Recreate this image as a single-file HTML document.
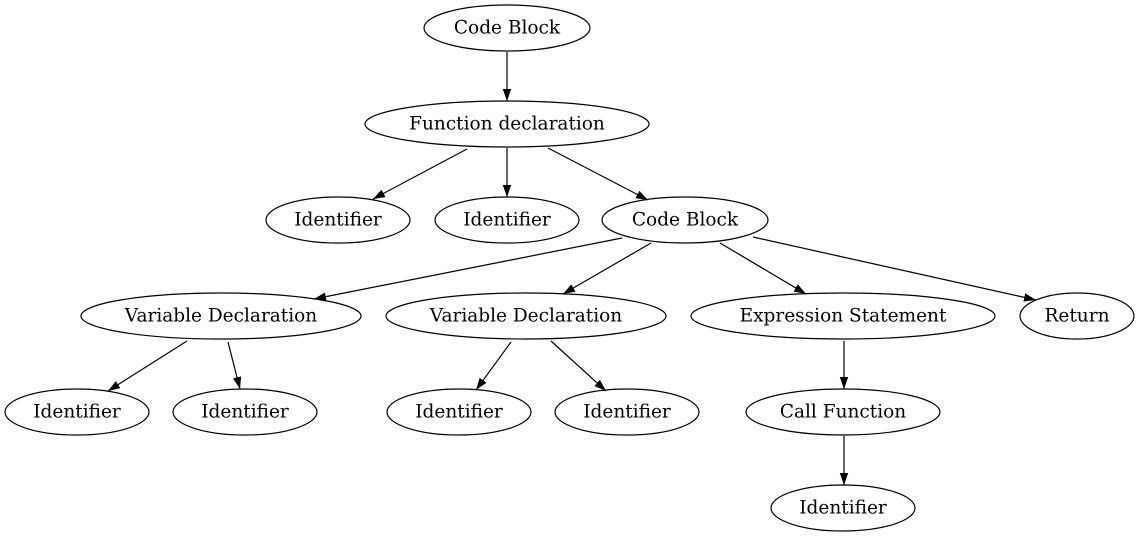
<!DOCTYPE html>
<html><head><meta charset="utf-8"><style>
html,body{margin:0;padding:0;background:#fff;}
svg{display:block}
text{font-family:"DejaVu Serif",serif;font-size:18.5px;fill:#000;text-anchor:middle;dominant-baseline:central}
ellipse{fill:none;stroke:#000;stroke-width:1.2}
line{stroke:#000;stroke-width:1.2}
</style></head><body>
<svg width="1140" height="539" viewBox="0 0 1140 539" xmlns="http://www.w3.org/2000/svg">
<defs><marker id="a" viewBox="0 0 10 7" refX="10" refY="3.5" markerWidth="12" markerHeight="9" markerUnits="userSpaceOnUse" orient="auto"><path d="M0,0L10,3.5L0,7z" fill="#000"/></marker></defs>
<g marker-end="url(#a)">
<line x1="507" y1="52" x2="507" y2="101"/>
<line x1="467" y1="149" x2="373" y2="199"/>
<line x1="507" y1="148" x2="507" y2="197"/>
<line x1="548" y1="148" x2="648" y2="200"/>
<line x1="622" y1="238" x2="314" y2="299"/>
<line x1="651" y1="243" x2="563" y2="294"/>
<line x1="720" y1="243" x2="806" y2="294"/>
<line x1="753" y1="237" x2="1036" y2="300"/>
<line x1="187" y1="341" x2="108" y2="391"/>
<line x1="228" y1="342" x2="240" y2="389"/>
<line x1="511" y1="342" x2="476" y2="390"/>
<line x1="551" y1="341" x2="606" y2="391"/>
<line x1="844" y1="341" x2="844" y2="389"/>
<line x1="844" y1="436" x2="844" y2="485"/>
</g>
<ellipse cx="507" cy="28" rx="83" ry="23"/><text x="507" y="28">Code Block</text>
<ellipse cx="507" cy="124" rx="142" ry="23"/><text x="507" y="124">Function declaration</text>
<ellipse cx="338" cy="220" rx="72" ry="23"/><text x="338" y="220">Identifier</text>
<ellipse cx="507" cy="220" rx="72" ry="23"/><text x="507" y="220">Identifier</text>
<ellipse cx="685" cy="220" rx="83" ry="23"/><text x="685" y="220">Code Block</text>
<ellipse cx="221" cy="316" rx="140" ry="23"/><text x="221" y="316">Variable Declaration</text>
<ellipse cx="526" cy="316" rx="140" ry="23"/><text x="526" y="316">Variable Declaration</text>
<ellipse cx="843" cy="316" rx="152" ry="23"/><text x="843" y="316">Expression Statement</text>
<ellipse cx="1077" cy="316" rx="57" ry="23"/><text x="1077" y="316">Return</text>
<ellipse cx="77" cy="412" rx="72" ry="23"/><text x="77" y="412">Identifier</text>
<ellipse cx="245" cy="412" rx="72" ry="23"/><text x="245" y="412">Identifier</text>
<ellipse cx="459" cy="412" rx="72" ry="23"/><text x="459" y="412">Identifier</text>
<ellipse cx="627" cy="412" rx="72" ry="23"/><text x="627" y="412">Identifier</text>
<ellipse cx="843" cy="412" rx="97" ry="23"/><text x="843" y="412">Call Function</text>
<ellipse cx="843" cy="508" rx="72" ry="23"/><text x="843" y="508">Identifier</text>
</svg>
</body></html>
